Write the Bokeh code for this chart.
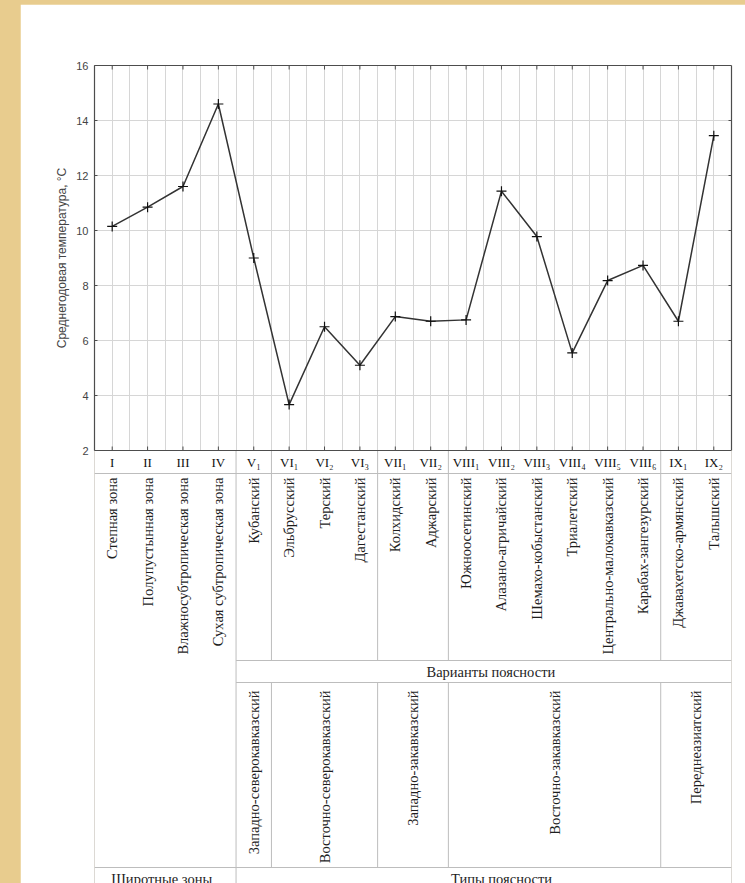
from math import pi

from bokeh.core.properties import value
from bokeh.embed import file_html
from bokeh.layouts import column
from bokeh.models import FixedTicker, Grid, LinearAxis, Range1d, Span
from bokeh.plotting import figure
from bokeh.resources import INLINE

# Region codes along the x axis
codes = ["I", "II", "III", "IV", "V₁", "VI₁", "VI₂", "VI₃", "VII₁", "VII₂",
         "VIII₁", "VIII₂", "VIII₃", "VIII₄", "VIII₅", "VIII₆", "IX₁", "IX₂"]

# Latitudinal zones (first four) and altitudinal zonation variants
names = ["Степная зона", "Полупустынная зона", "Влажносубтропическая зона",
         "Сухая субтропическая зона", "Кубанский", "Эльбрусский", "Терский",
         "Дагестанский", "Колхидский", "Аджарский", "Южноосетинский",
         "Алазано-агричайский", "Шемахо-кобыстанский", "Триалетский",
         "Центрально-малокавказский", "Карабах-зангезурский",
         "Джавахетско-армянский", "Талышский"]

# Mean annual temperature, °C
temps = [10.15, 10.85, 11.6, 14.6, 9.0, 3.67, 6.5, 5.1, 6.87, 6.7,
         6.75, 11.43, 9.78, 5.55, 8.18, 8.73, 6.7, 13.45]

# Zonation types and the column span each one covers
type_names = ["Западно-северокавказский", "Восточно-северокавказский",
              "Западно-закавказский", "Восточно-закавказский", "Переднеазиатский"]
type_start = [4, 5, 8, 10, 16]
type_end = [5, 8, 10, 16, 18]

y_ticks = [2, 4, 6, 8, 10, 12, 14, 16]
y_title = "Среднегодовая температура, °C"

n = len(codes)
xc = [i + 0.5 for i in range(n)]
n_zones = type_start[0]

SANS = "Liberation Sans"
SERIF = "Liberation Serif"
DARK = "#4d4d4d"
GRID = "#d6d6d6"
TABLE = "#bdbdbd"
TXT = "#1e1e1e"

# Layout in pixels: chart part of the frame, then the table below it
CHART_H = 385           # 2..16 °C
TABLE_H = 433           # table under the chart
FRAME_H = CHART_H + TABLE_H
px_per_deg = CHART_H / (y_ticks[-1] - y_ticks[0])

p = figure(width=725, height=61 + FRAME_H,
           x_range=Range1d(0, n),
           y_range=Range1d(y_ticks[-1] - FRAME_H / px_per_deg, y_ticks[-1]),
           x_axis_type=None, y_axis_type=None, toolbar_location=None,
           output_backend="svg", min_border_left=74, min_border_right=14,
           min_border_top=61, min_border_bottom=0, outline_line_color=None,
           background_fill_color="white", border_fill_color="white")
p.margin = (4, 0, 0, 20)
# table coordinates: pixels downwards from the chart's bottom edge
p.extra_y_ranges = {"table": Range1d(TABLE_H, -CHART_H)}

left = LinearAxis(ticker=FixedTicker(ticks=y_ticks), bounds=(y_ticks[0], y_ticks[-1]),
                  major_label_text_font=SANS, major_label_text_font_size="11px",
                  major_label_text_color="#444444", major_label_standoff=6,
                  major_tick_in=3, major_tick_out=0, minor_tick_line_color=None,
                  axis_line_color=DARK, axis_line_width=1.2, major_tick_line_color=DARK)
p.add_layout(left, "left")

# axis title as a single label centred on the temperature scale
mid = (y_ticks[0] + y_ticks[-1]) / 2
title_axis = LinearAxis(ticker=FixedTicker(ticks=[mid]),
                        major_label_overrides={mid: y_title},
                        major_label_orientation="parallel",
                        major_label_text_font=SANS, major_label_text_font_size="12px",
                        major_label_text_color="#444444", major_label_standoff=5,
                        major_tick_in=0, major_tick_out=0, minor_tick_line_color=None,
                        axis_line_color=None, major_tick_line_color=None)
p.add_layout(title_axis, "left")

right = LinearAxis(ticker=FixedTicker(ticks=[]), bounds=(y_ticks[0], y_ticks[-1]),
                   major_tick_in=0, major_tick_out=0, minor_tick_line_color=None,
                   axis_line_color=DARK, axis_line_width=1.2)
p.add_layout(right, "right")

top = LinearAxis(ticker=FixedTicker(ticks=[]), major_tick_in=0, major_tick_out=0,
                 minor_tick_line_color=None, axis_line_color=DARK, axis_line_width=1.2)
p.add_layout(top, "above")

half_steps = [k * 0.5 for k in range(1, 2 * n)]
p.add_layout(Grid(dimension=0, ticker=FixedTicker(ticks=half_steps),
                  grid_line_color=GRID, grid_line_width=1))
p.add_layout(Grid(dimension=1, ticker=FixedTicker(ticks=y_ticks[1:-1]),
                  grid_line_color=GRID, grid_line_width=1))

# inward tick marks on the top, bottom and right edges
p.scatter(xc, [y_ticks[-1]] * n, marker="dash", angle=pi / 2, size=8,
          line_color=DARK, line_width=1)
p.scatter(xc, [y_ticks[0]] * n, marker="dash", angle=pi / 2, size=8,
          line_color=DARK, line_width=1)
p.scatter([n] * (len(y_ticks) - 2), y_ticks[1:-1], marker="dash", size=6,
          line_color=DARK, line_width=1)

# temperature profile
p.line(xc, temps, line_color="#333333", line_width=1.5)
p.scatter(xc, temps, marker="cross", size=10, line_color="#111111", line_width=1.2)

# ---- table under the chart ----
ROW_CODES, ROW_NAMES, ROW_VAR, ROW_TYPES = 23, 210, 232, 417

p.quad(left=0, right=n, top=0, bottom=TABLE_H, y_range_name="table",
       fill_color="white", line_color=None)

x0, y0, x1, y1 = [], [], [], []

def seg(a, b, c, d):
    x0.append(a); y0.append(b); x1.append(c); y1.append(d)

seg(0, ROW_CODES, n, ROW_CODES)
seg(n_zones, ROW_NAMES, n, ROW_NAMES)
seg(n_zones, ROW_VAR, n, ROW_VAR)
seg(0, ROW_TYPES, n, ROW_TYPES)
for xv in (0, n_zones, n):
    seg(xv, 0, xv, TABLE_H)
for xv in type_start[1:]:
    seg(xv, 0, xv, ROW_NAMES)
    seg(xv, ROW_VAR, xv, ROW_TYPES)

p.segment(x0, y0, x1, y1, line_color=TABLE, line_width=1, y_range_name="table")

p.add_layout(Span(location=y_ticks[0], dimension="width", line_color=DARK,
                  line_width=1.2))

p.text(x=xc, y=[12] * n, text=codes, text_align="center", text_baseline="middle",
       text_font=value(SERIF), text_font_size="13px", text_color="#111111",
       y_range_name="table")

p.text(x=xc, y=[27] * n, text=names, angle=pi / 2, text_align="right",
       text_baseline="middle", text_font=value(SERIF), text_font_size="14.5px",
       text_color=TXT, y_range_name="table")

type_x = [(s + e) / 2 for s, e in zip(type_start, type_end)]
p.text(x=type_x, y=[240] * len(type_names), text=type_names, angle=pi / 2,
       text_align="right", text_baseline="middle", text_font=value(SERIF),
       text_font_size="14.5px", text_color=TXT, y_range_name="table")

p.text(x=[11.2], y=[221], text=["Варианты поясности"], text_align="center",
       text_baseline="middle", text_font=value(SERIF), text_font_size="14.5px",
       text_color=TXT, y_range_name="table")
p.text(x=[11.5], y=[420], text=["Типы поясности"], text_align="center",
       text_baseline="top", text_font=value(SERIF), text_font_size="14.5px",
       text_color=TXT, y_range_name="table")
p.text(x=[1.9], y=[420], text=["Широтные зоны"], text_align="center",
       text_baseline="top", text_font=value(SERIF), text_font_size="14.5px",
       text_color=TXT, y_range_name="table")

page = column(p, styles={"background-color": "#e8cc8e"})

open("out.html", "w").write(file_html(page, INLINE))
